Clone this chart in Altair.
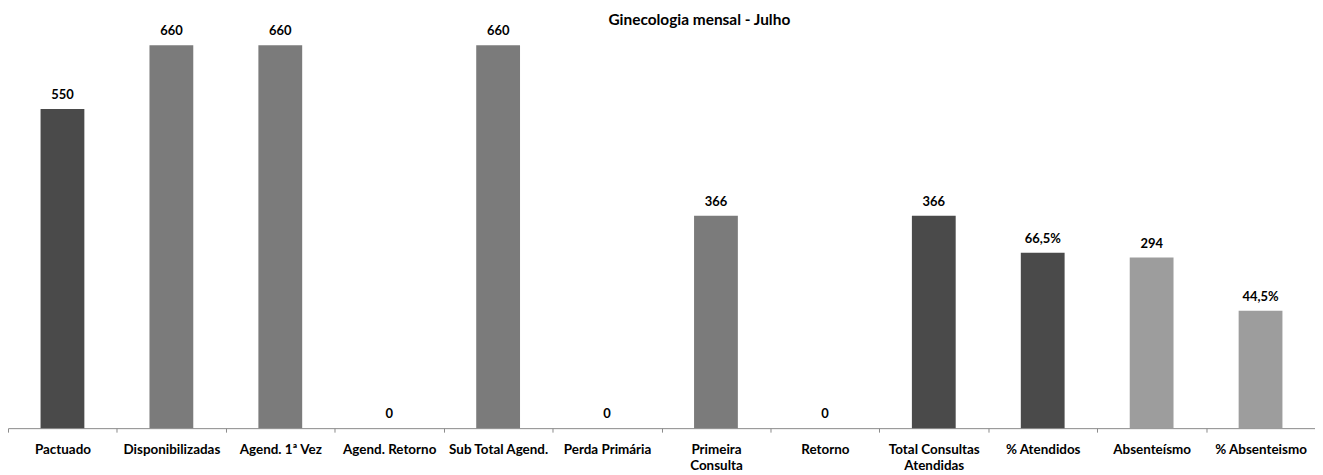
import altair as alt
import pandas as pd

categories = ["Pactuado", "Disponibilizadas", "Agend. 1ª Vez", "Agend. Retorno",
              "Sub Total Agend.", "Perda Primária", "Primeira Consulta", "Retorno",
              "Total Consultas Atendidas", "% Atendidos", "Absenteísmo", "% Absenteismo"]
values = [550, 660, 660, 0, 660, 0, 366, 0, 366, 66.5, 294, 44.5]
kinds = ["count", "count", "count", "count", "count", "count", "count", "count",
         "count", "pct", "count", "pct"]
colors = ["#4a4a4a", "#7b7b7b", "#7b7b7b", "#7b7b7b", "#7b7b7b", "#7b7b7b", "#7b7b7b",
          "#7b7b7b", "#4a4a4a", "#4a4a4a", "#9d9d9d", "#9d9d9d"]

labels = []
for v, k in zip(values, kinds):
    if k == "pct":
        labels.append(f"{v:.1f}%".replace(".", ","))
    else:
        labels.append(f"{v:.0f}")

df = pd.DataFrame({"cat": categories, "value": values, "kind": kinds,
                   "color": colors, "label": labels})

FONT = "Lato"

label_expr = ("datum.label == 'Primeira Consulta' ? ['Primeira', 'Consulta'] : "
              "datum.label == 'Total Consultas Atendidas' ? ['Total Consultas', 'Atendidas'] : datum.label")

x = alt.X("cat:N", sort=categories, scale=alt.Scale(domain=categories, paddingInner=0, paddingOuter=0),
          axis=alt.Axis(title=None, labelAngle=0, labelExpr=label_expr, labelFont=FONT,
                        labelFontSize=13.5, labelFontWeight="bold", labelColor="#000000",
                        labelPadding=10, labelLineHeight=17, labelLimit=200,
                        domainColor="#8a8a8a", tickColor="#8a8a8a", tickSize=4,
                        tickBand="extent", grid=False, labelBaseline="top"))


def layer_for(kind, domain_max):
    base = alt.Chart(df).transform_filter(alt.datum.kind == kind)
    y = alt.Y("value:Q", scale=alt.Scale(domain=[0, domain_max], nice=False, zero=True), axis=None)
    bars = base.mark_bar(size=44).encode(x=x, y=y, color=alt.Color("color:N", scale=None))
    text = base.mark_text(font=FONT, fontSize=13, fontWeight="bold", color="#000000",
                          baseline="alphabetic", dy=-10).encode(x=x, y=y, text="label:N")
    return bars + text


counts = layer_for("count", 700)
pcts = layer_for("pct", 154)

chart = alt.layer(counts, pcts).resolve_scale(y="independent").properties(
    width=1313, height=408,
    title=alt.TitleParams("Ginecologia mensal - Julho", font=FONT, fontSize=15.5,
                          fontWeight="bold", color="#000000", anchor="middle",
                          dx=38, dy=11),
    autosize=alt.AutoSizeParams(type="none"),
    padding={"left": 0, "top": 13, "right": 0, "bottom": 48},
).configure_view(stroke=None)

chart.save("out.html", embed_options={"renderer": "svg", "actions": False})
